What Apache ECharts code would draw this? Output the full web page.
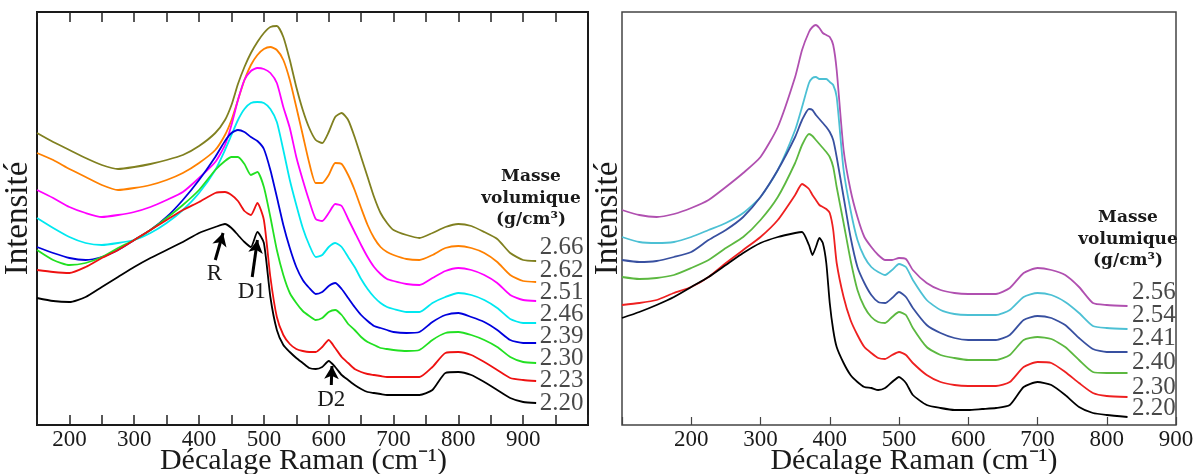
<!DOCTYPE html>
<html><head><meta charset="utf-8">
<script src="https://cdn.jsdelivr.net/npm/echarts@6/dist/echarts.min.js"></script>
<style>html,body{margin:0;padding:0;background:#fff}#c{width:1193px;height:474px}</style>
</head><body><div id="c"></div>
<script>
// ---------------- DATA (intensity in arbitrary units) ----------------
const leftX = [150,175,200,225,250,275,300,325,350,375,400,425,440,450,460,470,480,490,500,510,520,530,540,550,560,570,580,590,600,610,620,630,640,650,660,670,680,690,700,720,740,760,780,800,820,840,860,880,900,920];
const left266 = [292,283,275,267,260,256,258,261,265,270,279,292,305,320,341,358,372,383,392,398,399,388,365,338,315,297,285,282,293,308,312,305,288,268,248,228,212,202,195,190,187,192,198,201,199,193,186,172,165,164];
const left262 = [272,265,256,248,240,235,237,240,245,252,262,275,290,305,325,345,360,370,376,378,375,365,345,318,290,262,242,242,250,262,261,250,235,217,200,187,178,173,170,166,165,170,177,179,177,172,163,150,144,143];
const left251 = [235,227,218,212,208,210,213,218,225,233,247,263,280,300,325,345,354,357,356,352,342,318,297,268,245,224,206,204,212,221,219,206,193,180,168,158,151,146,144,141,140,147,154,157,155,150,142,130,125,124];
const left246 = [207,197,188,182,180,182,185,192,202,215,232,255,275,290,305,316,322,323,322,316,303,275,245,220,197,180,168,170,178,182,178,168,158,146,136,128,122,118,116,113,113,122,128,132,130,125,117,106,102,102];
const left239 = [178,172,167,165,168,175,185,195,208,225,245,268,284,292,295,293,288,284,276,255,228,200,177,158,145,137,131,133,139,142,136,127,118,110,104,99,97,95,93,92,93,103,110,112,108,103,95,85,82,82];
const left230 = [175,165,160,162,168,177,185,195,207,220,235,255,264,268,268,261,250,253,238,208,175,150,132,122,114,109,105,107,113,115,110,101,95,88,83,80,77,76,75,74,75,85,92,93,90,85,78,68,63,62];
const left223 = [155,153,152,158,167,175,185,195,205,215,223,232,233,230,224,214,210,222,205,148,108,90,81,76,74,73,73,78,85,77,68,62,56,53,51,50,49,48,48,48,48,58,72,73,70,63,55,47,45,44];
const left220 = [127,124,123,128,138,148,158,167,175,183,192,198,201,197,190,183,178,193,182,128,95,80,73,67,62,57,56,58,64,58,50,45,40,36,33,32,31,30,30,30,30,35,52,53,50,43,35,27,23,22];
const leftNames = ['2.66','2.62','2.51','2.46','2.39','2.30','2.23','2.20'];

const rightX = [100,125,150,175,200,225,250,275,300,325,350,360,370,375,380,385,390,395,400,405,410,420,430,440,450,460,470,480,490,500,510,520,540,560,580,600,620,640,660,680,700,720,740,760,780,800,830];
const right256 = [215,210,208,211,217,225,238,252,268,298,348,375,393,398,400,397,392,390,388,380,355,275,235,208,188,178,170,165,165,167,166,155,142,135,132,131,131,131,137,152,157,155,150,138,122,120,119];
const right254 = [188,183,182,183,188,195,202,212,228,255,295,318,342,347,348,346,346,346,343,340,328,255,215,185,168,158,153,150,155,161,158,145,125,115,111,110,110,110,115,128,132,130,123,112,99,97,96];
const right241 = [165,163,164,168,173,185,195,208,228,255,288,305,316,315,310,306,302,298,293,285,268,228,188,158,142,130,123,122,127,133,128,117,100,92,87,85,85,85,90,105,109,107,100,87,76,73,73];
const right240 = [148,146,147,150,157,165,177,188,205,228,262,280,291,289,285,281,277,273,268,258,238,202,165,135,118,108,103,102,108,113,110,97,78,70,67,65,65,65,70,85,88,86,78,65,53,52,52];
const right230 = [120,122,125,132,138,148,162,175,188,205,230,241,236,230,225,220,218,216,212,195,162,128,105,90,78,72,67,66,70,73,70,62,50,43,40,39,39,39,43,58,63,62,53,42,32,29,28];
const right220 = [107,113,120,128,138,148,160,172,182,188,192,193,180,170,178,187,182,162,122,95,78,62,50,43,38,37,35,37,43,48,42,30,20,17,15,15,16,17,20,38,43,40,30,18,12,10,8];
const rightNames = ['2.56','2.54','2.41','2.40','2.30','2.20'];

const xTicksLeft = [200,300,400,500,600,700,800,900];
const xTicksRight = [200,300,400,500,600,700,800,900];
const annotations = [
  {text:'R',  from:[425,165], to:[437,192]},
  {text:'D1', from:[482,148], to:[490,185]},
  {text:'D2', from:[604,40],  to:[605,59]}
];

// ---------------- LAYOUT / STYLE ----------------
const leftSeries = [left266,left262,left251,left246,left239,left230,left223,left220];
const rightSeries = [right256,right254,right241,right240,right230,right220];
const leftColors = ['#808020','#ff8000','#ff00ff','#00e8f0','#0000dd','#22e022','#ee1111','#000000'];
const rightColors = ['#b050b0','#4cc0d4','#3850a0','#5cb840','#ee2020','#000000'];
const leftLabelY = [178,155,133,111,89,67,45,22];
const rightLabelY = [133,110,87,63,38,17];
const SERIF = '"Liberation Serif", "Times New Roman", serif';
const TXT = '#1a1a1a';

const series = [];
leftSeries.forEach((vals,i)=>{
  const s = {type:'line', xAxisIndex:0, yAxisIndex:0, name:leftNames[i],
    data: leftX.map((x,j)=>[x, vals[j]]), showSymbol:false, smooth:0.2,
    lineStyle:{color:leftColors[i], width:1.8}, itemStyle:{color:leftColors[i]}, z:3};
  if (i === leftSeries.length-1) {
    s.markLine = {silent:true, animation:false, symbol:['none','arrow'], symbolSize:[11,13],
      lineStyle:{color:'#000', width:3, type:'solid'},
      label:{show:true, position:'start', distance:3, formatter:p=>p.name, fontFamily:SERIF, fontSize:23, color:TXT},
      data: annotations.map(a=>[{name:a.text, coord:a.from},{coord:a.to}])};
  }
  series.push(s);
});
rightSeries.forEach((vals,i)=>{
  series.push({type:'line', xAxisIndex:2, yAxisIndex:1, name:rightNames[i],
    data: rightX.map((x,j)=>[x, vals[j]]), showSymbol:false, smooth:0.2,
    lineStyle:{color:rightColors[i], width:1.8}, itemStyle:{color:rightColors[i]}, z:3});
});
// density labels at the right end of each spectrum
series.push({type:'scatter', xAxisIndex:0, yAxisIndex:0, symbolSize:1, itemStyle:{color:'rgba(0,0,0,0)'},
  data: leftNames.map((n,i)=>[leftX[leftX.length-1], leftLabelY[i], n]), silent:true,
  label:{show:true, position:'right', distance:3, formatter:p=>p.data[2], fontFamily:SERIF, fontSize:25, color:TXT}});
series.push({type:'scatter', xAxisIndex:2, yAxisIndex:1, symbolSize:1, itemStyle:{color:'rgba(0,0,0,0)'},
  data: rightNames.map((n,i)=>[rightX[rightX.length-1], rightLabelY[i], n]), silent:true,
  label:{show:true, position:'right', distance:4, formatter:p=>p.data[2], fontFamily:SERIF, fontSize:25, color:TXT}});

const xTitle = 'Décalage Raman (cm⁻¹)';
function xAxisBase(min,max,interval,ticks){
  return {type:'value', min, max, interval, axisLine:{show:false}, splitLine:{show:false},
    axisLabel:{show:true, margin:3, fontFamily:SERIF, fontSize:23, color:TXT,
      formatter:v=> ticks.indexOf(v)>=0 ? String(v) : ''},
    axisTick:{show:true, inside:true, length:10, lineStyle:{color:'#222', width:1.5}}};
}
const xLeft = Object.assign(xAxisBase(150,1000,50,xTicksLeft), {gridIndex:0, position:'bottom',
  name:xTitle, nameLocation:'middle', nameGap:21, nameMoveOverlap:false,
  nameTextStyle:{fontFamily:SERIF, fontSize:30, color:TXT, padding:[0,18,0,0]}});
const xLeftTop = Object.assign(xAxisBase(150,1000,50,[]), {gridIndex:0, position:'top'});
xLeftTop.axisLabel = {show:false};
const xRight = Object.assign(xAxisBase(100,900,100,xTicksRight), {gridIndex:1, position:'bottom',
  name:xTitle, nameLocation:'middle', nameGap:21, nameMoveOverlap:false,
  nameTextStyle:{fontFamily:SERIF, fontSize:30, color:TXT, padding:[0,0,0,30]}});
xRight.axisTick = {show:true, inside:true, length:8, lineStyle:{color:'#444', width:1.2}};

function yAxisBase(grid, gap){
  return {type:'value', gridIndex:grid, min:0, max:413, axisLine:{show:false}, axisTick:{show:false},
    axisLabel:{show:false}, splitLine:{show:false},
    name:'Intensité', nameLocation:'middle', nameRotate:90, nameGap:gap, nameMoveOverlap:false,
    nameTextStyle:{fontFamily:SERIF, fontSize:33, color:TXT}};
}

function legendTitle(cx, y0){
  const f = 'bold 17px "DejaVu Serif", serif';
  return ['Masse','volumique','(g/cm³)'].map((t,i)=>({type:'text', x:cx, y:y0+i*21.5, silent:true,
    style:{text:t, font:f, fill:TXT, align:'center', verticalAlign:'middle'}}));
}

const chart = echarts.init(document.getElementById('c'), null, {renderer:'canvas'});
chart.setOption({
  animation:false,
  backgroundColor:'#fff',
  grid:[
    {left:37, top:12, width:551, height:413, show:true, borderColor:'#1a1a1a', borderWidth:2, backgroundColor:'transparent', containLabel:false, outerBoundsMode:'none'},
    {left:622, top:12, width:554, height:413, show:true, borderColor:'#444', borderWidth:1.5, backgroundColor:'transparent', containLabel:false, outerBoundsMode:'none'}
  ],
  xAxis:[xLeft, xLeftTop, xRight],
  yAxis:[yAxisBase(0,2), yAxisBase(1,-3)],
  series,
  graphic: legendTitle(531,177).concat(legendTitle(1128,218))
});
</script>
</body></html>
